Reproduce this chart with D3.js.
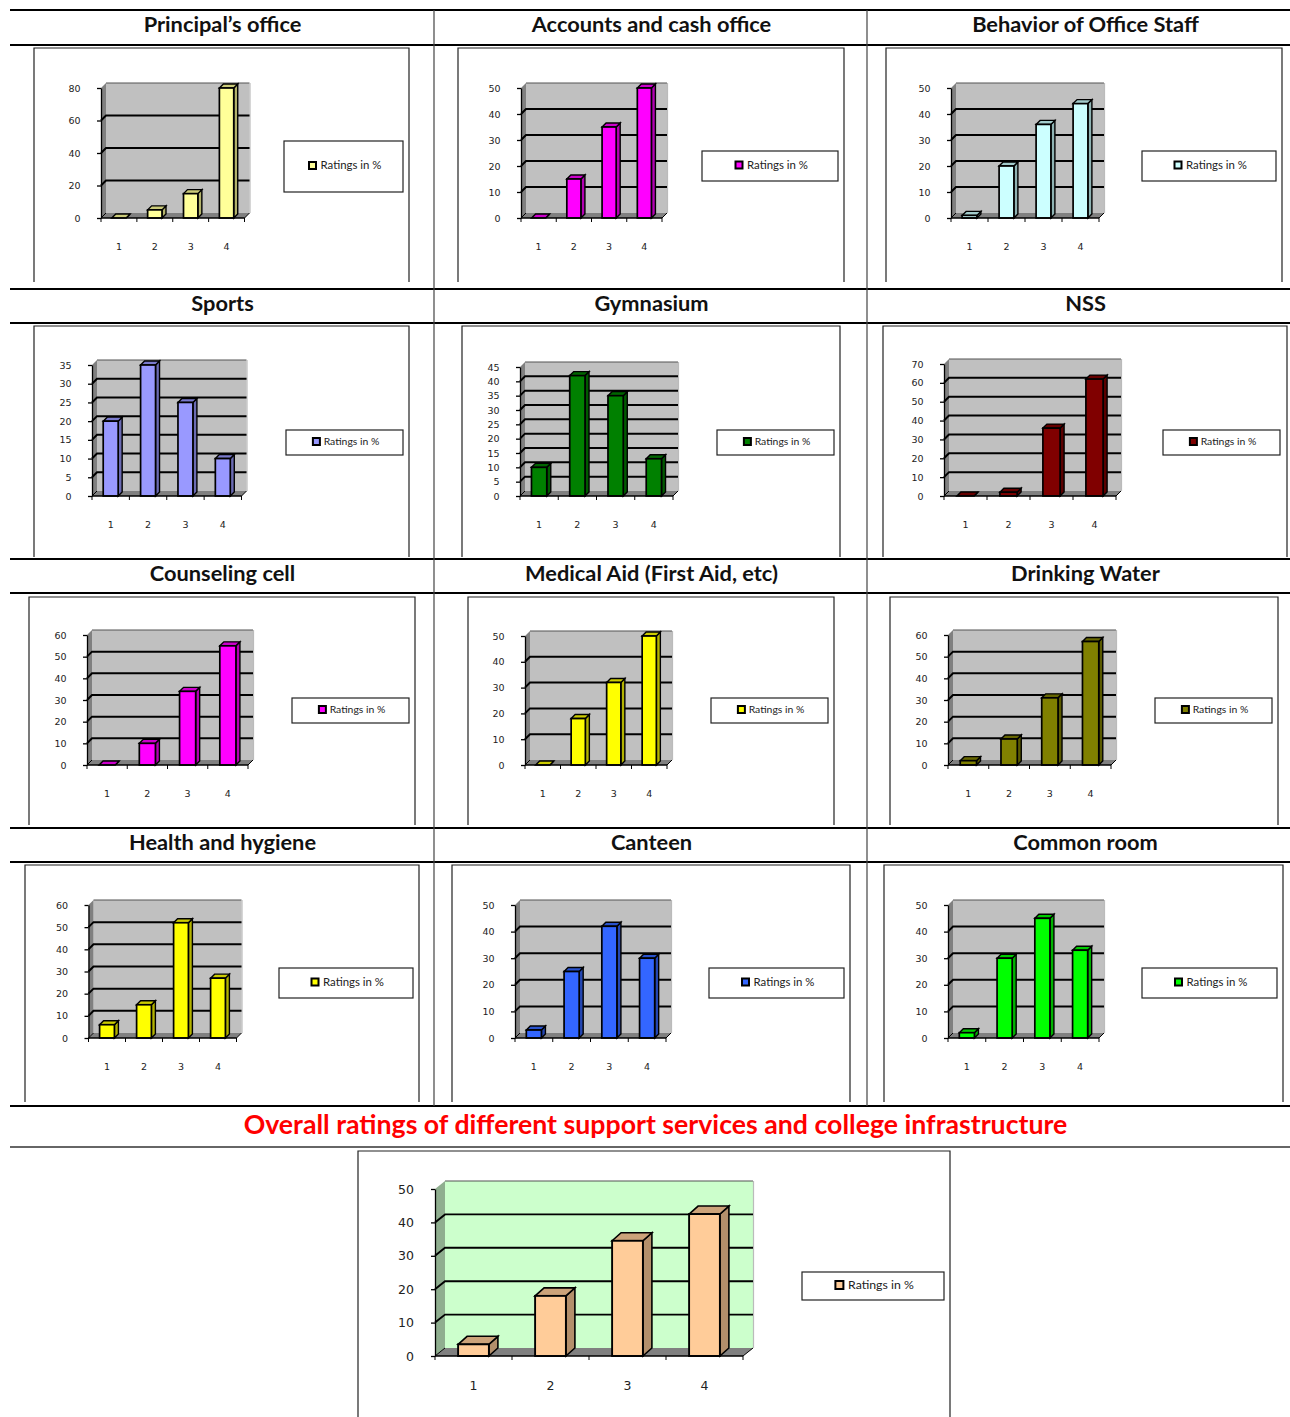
<!DOCTYPE html>
<html><head><meta charset="utf-8">
<script src="https://cdn.jsdelivr.net/npm/d3@7/dist/d3.min.js"></script>
<style>html,body{margin:0;padding:0;background:#fff}svg{display:block}</style>
</head><body><svg id="c" width="1290" height="1417"></svg>
<script>
const categories = [1, 2, 3, 4];
const titles = ["Principal’s office","Accounts and cash office","Behavior of Office Staff","Sports","Gymnasium","NSS","Counseling cell","Medical Aid (First Aid, etc)","Drinking Water","Health and hygiene","Canteen","Common room"];
const overallTitle = "Overall ratings of different support services and college infrastructure";
const seriesName = "Ratings in %";
const principal = [0, 5, 15, 80];
const accounts = [0, 15, 35, 50];
const staff = [1, 20, 36, 44];
const sports = [20, 35, 25, 10];
const gymnasium = [10, 42, 35, 13];
const nss = [0, 2, 36, 62];
const counseling = [0, 10, 34, 55];
const medical = [0, 18, 32, 50];
const water = [2, 12, 31, 57];
const health = [6, 15, 52, 27];
const canteen = [3, 25, 42, 30];
const commonRoom = [2, 30, 45, 33];
const overall = [3.5, 18, 34.5, 42.5];
const seriesValues = [principal, accounts, staff, sports, gymnasium, nss, counseling, medical, water, health, canteen, commonRoom, overall];
const axisMax = [80, 50, 50, 35, 45, 70, 60, 50, 60, 60, 50, 50, 50];
const axisStep = [20, 10, 10, 5, 5, 10, 10, 10, 10, 10, 10, 10, 10];
const colors = ["#FFFF99","#FF00FF","#CCFFFF","#9999FF","#008000","#800000","#FF00FF","#FFFF00","#808000","#FFFF00","#3366FF","#00FF00","#FFCC99"];

// layout: frame [l,r,t,b], plot [x0,x1,yBase,yTop], legend [l,r,t,b]
const frames = [[34,409,48,282],[458,844,48,282],[886,1282,48,282],[34,409,326,557],[462,840,326,557],[883,1287,326,557],[29,415,597,825],[468,834,597,825],[890,1278,597,825],[25,419,865,1102],[452,850,865,1102],[884,1283,865,1102],[358,950,1151,1417]];
const plots = [[101,244.5,218,88],[521,662,218,88],[951,1099,218,88],[92,241.5,496,365],[520,673,496,367],[944,1116,496,364],[87,248,765,635],[525,667,765,636],[948,1111,765,635],[88.5,236.5,1038,905],[515,666,1038,905],[948,1099,1038,905],[435,743,1356,1189]];
const legends = [[284,403,141,192],[702,838,151,181],[1142,1276,151,181],[286,403,430,455],[717,834,430,455],[1163,1280,430,455],[292,409,698,723],[711,828,698,723],[1155,1272,698,723],[279,413,968,998],[709,844,968,998],[1142,1277,968,998],[802,944,1272,1300]];
const legendFont = [11.4,11.4,11.4,10.4,10.4,10.4,10.4,10.4,10.4,11.4,11.4,11.4,12.3];
const rowLines = [10,45,289,323,559,593,828,862,1106];
const titleY = [24,303,573,842];
const colCenters = [222.5,651.5,1085.5];

const svg = d3.select("#c");
const g = svg.append("g");

// table rules
g.selectAll(".rule").data(rowLines).join("line").attr("x1",10).attr("x2",1290).attr("y1",d=>d).attr("y2",d=>d).attr("stroke","#000").attr("stroke-width",1.8);
g.append("line").attr("x1",10).attr("x2",1290).attr("y1",1147).attr("y2",1147).attr("stroke","#333").attr("stroke-width",1.4);
[434,867].forEach(x=>g.append("line").attr("x1",x).attr("x2",x).attr("y1",10).attr("y2",1106).attr("stroke","#444").attr("stroke-width",1.2));

titles.forEach((t,i)=>{
  g.append("text").attr("x",colCenters[i%3]).attr("y",titleY[Math.floor(i/3)]).attr("dy","0.35em")
   .attr("text-anchor","middle").attr("font-family","Lato").attr("font-weight",700).attr("font-size",21.8).attr("fill","#111").text(t);
});
g.append("text").attr("x",655.5).attr("y",1125).attr("dy","0.35em").attr("text-anchor","middle")
 .attr("font-family","Lato").attr("font-weight",700).attr("font-size",26.7).attr("fill","#FF0000").text(overallTitle);

const poly = pts => pts.map(p=>p.join(",")).join(" ");

seriesValues.forEach((vals,i)=>{
  const big = i===12;
  const [fl,fr,ft,fb]=frames[i], [x0,x1,yb,yt]=plots[i], [ll,lr,lt,lb]=legends[i];
  const dx = big?10:5, dy = big?8:5;
  const p = g.append("g");
  p.append("path").attr("d",`M${fl},${fb}V${ft}H${fr}V${fb}`).attr("fill","#fff").attr("stroke","#222").attr("stroke-width",1.2);

  const x = d3.scaleBand().domain(categories).range([x0,x1]).paddingInner(0.6).paddingOuter(0.3);
  const y = d3.scaleLinear().domain([0,axisMax[i]]).range([yb,yt]);
  const ticks = d3.range(0,axisMax[i]+1,axisStep[i]);

  const wall = big?"#CCFFCC":"#C0C0C0", side = big?"#8FAE8F":"#808080", floor="#808080";
  p.append("polygon").attr("points",poly([[x0+dx,yt-dy],[x1+dx,yt-dy],[x1+dx,yb-dy],[x0+dx,yb-dy]])).attr("fill",wall);
  p.append("polygon").attr("points",poly([[x0,yt],[x0+dx,yt-dy],[x0+dx,yb-dy],[x0,yb]])).attr("fill",side);
  p.append("polygon").attr("points",poly([[x0,yb],[x0+dx,yb-dy],[x1+dx,yb-dy],[x1,yb]])).attr("fill",floor);
  // back-wall edges
  p.append("line").attr("x1",x0+dx).attr("x2",x1+dx).attr("y1",yt-dy).attr("y2",yt-dy).attr("stroke","#555").attr("stroke-width",1.2);
  p.append("line").attr("x1",x1+dx+0.5).attr("x2",x1+dx+0.5).attr("y1",yt-dy).attr("y2",yb-dy).attr("stroke","#bbb").attr("stroke-width",1.2);

  // gridlines
  p.selectAll(".gl").data(ticks.slice(1,-1)).join("path")
    .attr("d",t=>`M${x0},${y(t)}L${x0+dx},${y(t)-dy}H${x1+dx}`).attr("fill","none").attr("stroke","#000").attr("stroke-width",big?1.9:2);
  p.append("path").attr("d",`M${x0},${yb}L${x0+dx},${yb-dy}`).attr("stroke","#000").attr("stroke-width",1);
  p.append("path").attr("d",`M${x1},${yb}L${x1+dx},${yb-dy}`).attr("stroke","#000").attr("stroke-width",1);

  // bars
  const col = d3.rgb(colors[i]);
  const mul = f => d3.rgb(col.r*f,col.g*f,col.b*f).formatHex();
  const bdx = big?9:4, bdy = big?8:4, w = x.bandwidth();
  const bars = p.selectAll(".bar").data(vals.map((v,k)=>({c:categories[k],v}))).join("g");
  const sw = big?1.6:1.4;
  bars.append("polygon").attr("points",d=>{const a=x(d.c)+w,t=y(d.v);return poly([[a,t],[a+bdx,t-bdy],[a+bdx,yb-bdy],[a,yb]]);})
    .attr("fill",mul(0.7)).attr("stroke","#000").attr("stroke-width",sw);
  bars.append("polygon").attr("points",d=>{const a=x(d.c),t=y(d.v);return poly([[a,t],[a+bdx,t-bdy],[a+w+bdx,t-bdy],[a+w,t]]);})
    .attr("fill",mul(0.8)).attr("stroke","#000").attr("stroke-width",sw);
  bars.append("rect").attr("x",d=>x(d.c)).attr("y",d=>y(d.v)).attr("width",w).attr("height",d=>yb-y(d.v))
    .attr("fill",colors[i]).attr("stroke","#000").attr("stroke-width",big?1.9:1.7);

  // axes
  const fs = big?12.5:9.5;
  const ya = p.append("g").attr("transform",`translate(${x0},0)`)
    .call(d3.axisLeft(y).tickValues(ticks).tickSize(4).tickPadding(big?17:16.5).tickSizeOuter(0));
  const xa = p.append("g").attr("transform",`translate(0,${yb})`)
    .call(d3.axisBottom(x).tickValues(categories).tickSize(0).tickPadding(25));
  xa.select(".domain").attr("d",`M${x0},0H${x1}`);
  // category boundary ticks
  const boundaries = d3.range(0,categories.length+1).map(k=>x0+k*x.step());
  p.selectAll(".bt").data(boundaries).join("line").attr("x1",d=>d).attr("x2",d=>d).attr("y1",yb).attr("y2",yb+4).attr("stroke","#000").attr("stroke-width",1);
  [ya,xa].forEach(a=>{
    a.selectAll("text").attr("font-family","'DejaVu Sans'").attr("font-size",fs).attr("fill","#222");
    a.selectAll("path.domain,line").attr("stroke","#000").attr("stroke-width",1.3);
  });

  // legend
  p.append("rect").attr("x",ll).attr("y",lt).attr("width",lr-ll).attr("height",lb-lt).attr("fill","#fff").attr("stroke","#222").attr("stroke-width",1.2);
  const k = legendFont[i]/11.4;
  const cx=(ll+lr)/2+2, cy=(lt+lb)/2-1;
  const ms = big?8:7;
  p.append("rect").attr("x",cx-33*k-ms/2).attr("y",cy-ms/2).attr("width",ms).attr("height",ms).attr("fill",colors[i]).attr("stroke","#000").attr("stroke-width",2);
  p.append("text").attr("x",cx-25*k).attr("y",cy).attr("dy","0.35em").attr("font-family","Lato").attr("font-size",legendFont[i]).attr("fill","#222").text(seriesName);
});
</script></body></html>
